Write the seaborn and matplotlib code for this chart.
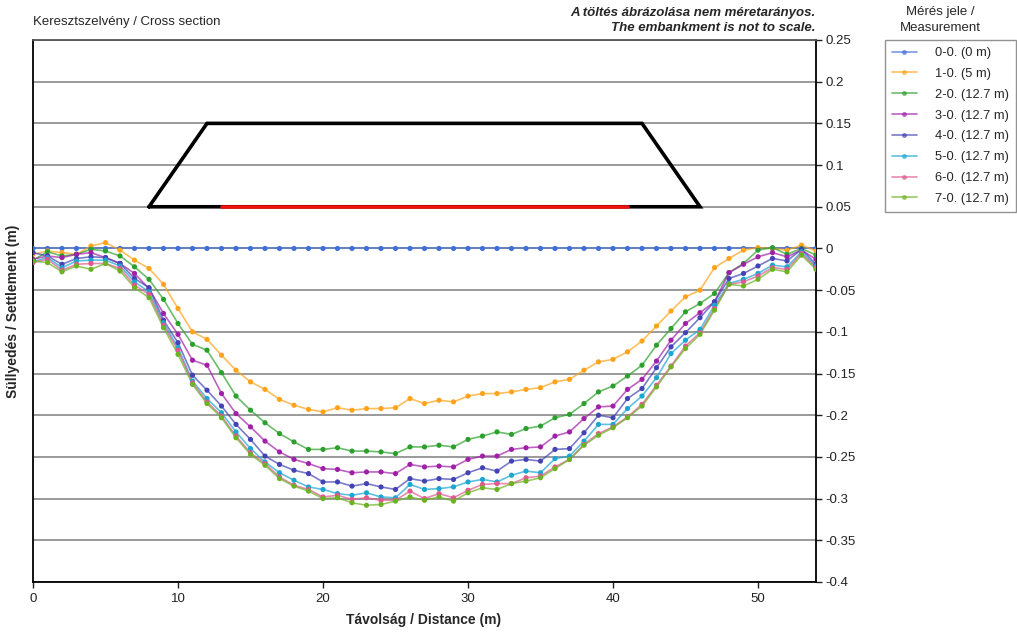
import numpy as np
import pandas as pd
import matplotlib
matplotlib.use("Agg")
import matplotlib.pyplot as plt
from matplotlib.lines import Line2D
import seaborn as sns

# ---------------- data ----------------
distance = list(range(0, 55))

s00 = [0.0] * 55
s10 = [-0.007, -0.003, -0.005, -0.007, 0.003, 0.007, -0.002, -0.014, -0.024, -0.043,
       -0.072, -0.100, -0.109, -0.128, -0.146, -0.160, -0.169, -0.181, -0.188, -0.193,
       -0.196, -0.191, -0.194, -0.192, -0.192, -0.191, -0.180, -0.186, -0.182, -0.184,
       -0.177, -0.174, -0.174, -0.172, -0.169, -0.167, -0.160, -0.157, -0.146, -0.136,
       -0.133, -0.124, -0.111, -0.093, -0.075, -0.058, -0.050, -0.023, -0.012, -0.002,
       0.001, 0.000, -0.002, 0.004, -0.003]
s20 = [-0.014, -0.004, -0.009, -0.007, -0.001, -0.003, -0.009, -0.022, -0.037, -0.061,
       -0.090, -0.115, -0.122, -0.149, -0.177, -0.194, -0.209, -0.222, -0.232, -0.241,
       -0.241, -0.239, -0.243, -0.243, -0.244, -0.246, -0.238, -0.238, -0.236, -0.238,
       -0.229, -0.225, -0.220, -0.223, -0.216, -0.213, -0.203, -0.199, -0.186, -0.172,
       -0.165, -0.153, -0.140, -0.116, -0.096, -0.076, -0.066, -0.054, -0.029, -0.018,
       -0.002, 0.001, -0.007, 0.000, -0.008]
s30 = [-0.013, -0.009, -0.011, -0.007, -0.005, -0.011, -0.018, -0.030, -0.048, -0.078,
       -0.103, -0.134, -0.140, -0.174, -0.198, -0.214, -0.231, -0.244, -0.253, -0.258,
       -0.264, -0.265, -0.269, -0.268, -0.268, -0.270, -0.259, -0.262, -0.261, -0.262,
       -0.253, -0.249, -0.249, -0.241, -0.239, -0.238, -0.225, -0.220, -0.204, -0.190,
       -0.189, -0.169, -0.157, -0.135, -0.110, -0.090, -0.077, -0.064, -0.029, -0.019,
       -0.010, -0.005, -0.010, -0.002, -0.013]
s40 = [-0.005, -0.009, -0.019, -0.012, -0.010, -0.011, -0.018, -0.036, -0.047, -0.086,
       -0.113, -0.152, -0.170, -0.189, -0.211, -0.229, -0.249, -0.259, -0.266, -0.270,
       -0.280, -0.280, -0.285, -0.282, -0.286, -0.289, -0.276, -0.279, -0.276, -0.277,
       -0.269, -0.263, -0.267, -0.255, -0.253, -0.255, -0.241, -0.240, -0.221, -0.200,
       -0.203, -0.180, -0.168, -0.143, -0.118, -0.101, -0.083, -0.064, -0.036, -0.030,
       -0.021, -0.012, -0.015, -0.001, -0.019]
s50 = [-0.016, -0.011, -0.023, -0.015, -0.014, -0.014, -0.021, -0.040, -0.052, -0.089,
       -0.119, -0.159, -0.180, -0.197, -0.220, -0.240, -0.256, -0.269, -0.278, -0.286,
       -0.289, -0.294, -0.296, -0.293, -0.298, -0.299, -0.283, -0.289, -0.288, -0.286,
       -0.280, -0.277, -0.280, -0.272, -0.267, -0.269, -0.252, -0.249, -0.231, -0.211,
       -0.211, -0.192, -0.177, -0.155, -0.126, -0.110, -0.097, -0.068, -0.042, -0.037,
       -0.030, -0.020, -0.022, -0.004, -0.021]
s60 = [-0.017, -0.013, -0.026, -0.019, -0.018, -0.018, -0.024, -0.044, -0.055, -0.092,
       -0.122, -0.161, -0.184, -0.201, -0.225, -0.245, -0.258, -0.274, -0.284, -0.289,
       -0.298, -0.296, -0.301, -0.299, -0.302, -0.302, -0.291, -0.300, -0.294, -0.299,
       -0.290, -0.283, -0.282, -0.282, -0.275, -0.273, -0.262, -0.253, -0.235, -0.222,
       -0.214, -0.202, -0.187, -0.164, -0.141, -0.117, -0.101, -0.072, -0.043, -0.040,
       -0.033, -0.023, -0.025, -0.006, -0.023]
s70 = [-0.015, -0.017, -0.028, -0.021, -0.025, -0.018, -0.027, -0.047, -0.059, -0.095,
       -0.127, -0.163, -0.186, -0.203, -0.227, -0.247, -0.260, -0.276, -0.285, -0.291,
       -0.300, -0.299, -0.305, -0.308, -0.307, -0.303, -0.298, -0.302, -0.298, -0.303,
       -0.293, -0.287, -0.289, -0.282, -0.279, -0.275, -0.264, -0.253, -0.236, -0.224,
       -0.215, -0.203, -0.189, -0.166, -0.142, -0.120, -0.103, -0.074, -0.043, -0.045,
       -0.037, -0.025, -0.028, -0.008, -0.025]

series_labels = ["0-0. (0 m)", "1-0. (5 m)", "2-0. (12.7 m)", "3-0. (12.7 m)",
                 "4-0. (12.7 m)", "5-0. (12.7 m)", "6-0. (12.7 m)", "7-0. (12.7 m)"]
series_values = [s00, s10, s20, s30, s40, s50, s60, s70]

# embankment outline (schematic) and loaded base
embank_x = [8, 12, 42, 46, 8]
embank_y = [0.05, 0.15, 0.15, 0.05, 0.05]
base_x = [13, 41]
base_y = [0.05, 0.05]

yticks = [0.25, 0.2, 0.15, 0.1, 0.05, 0, -0.05, -0.1, -0.15, -0.2, -0.25, -0.3, -0.35, -0.4]
ytick_labels = ["0.25", "0.2", "0.15", "0.1", "0.05", "0", "-0.05", "-0.1", "-0.15",
                "-0.2", "-0.25", "-0.3", "-0.35", "-0.4"]
xticks = [0, 10, 20, 30, 40, 50]

colors = ["#3f6fd8", "#ffa31a", "#2ca02c", "#a020a8", "#4343b5", "#1ca6d2", "#e0588f", "#6cb323"]

# ---------------- figure ----------------
sns.set_theme(style="white")
plt.rcParams["font.family"] = ["Liberation Sans", "DejaVu Sans"]

fig = plt.figure(figsize=(10.17, 6.32), dpi=100)
ax = fig.add_axes([33 / 1017, 1 - 582 / 632, (816 - 33) / 1017, (582 - 40) / 632])

rows = []
for lab, vals in zip(series_labels, series_values):
    for d, v in zip(distance, vals):
        rows.append((lab, d, v))
df = pd.DataFrame(rows, columns=["series", "dist", "settle"])
pal = dict(zip(series_labels, colors))

# gridlines first
for yv in yticks:
    ax.axhline(yv, color="#9a9a9a", lw=1.4, zorder=0)

sns.lineplot(data=df, x="dist", y="settle", hue="series", palette=pal, ax=ax,
             linewidth=1.2, alpha=0.7, legend=False, sort=False, zorder=3)
sns.scatterplot(data=df, x="dist", y="settle", hue="series", palette=pal, ax=ax,
                s=14, linewidth=0, legend=False, zorder=4)

ax.plot(embank_x, embank_y, color="black", lw=2.6, solid_joinstyle="miter", zorder=5)
ax.plot(base_x, base_y, color="#ee1111", lw=2.6, zorder=6)

ax.set_xlim(0, 54)
ax.set_ylim(-0.4, 0.25)
ax.set_xticks(xticks)
ax.set_xticklabels([str(t) for t in xticks])
ax.set_yticks(yticks)
ax.set_yticklabels(ytick_labels)
ax.yaxis.tick_right()
ax.tick_params(axis="y", which="both", direction="out", length=4, width=1, right=True,
               left=False, labelsize=9.5, pad=3, colors="#222222")
ax.tick_params(axis="x", direction="out", length=4, width=1, bottom=True,
               labelsize=9.5, pad=4, colors="#222222")
ax.set_xlabel("")
ax.set_ylabel("")
for side in ["left", "right", "top", "bottom"]:
    ax.spines[side].set_visible(True)
    ax.spines[side].set_color("black")
    ax.spines[side].set_linewidth(1.3)
ax.spines["top"].set_color("#555555")
ax.grid(False)

fig.text(424 / 1017, 1 - 620 / 632, "Távolság / Distance (m)", ha="center", va="center",
         fontsize=10, fontweight="bold")
fig.text(13 / 1017, 1 - 311 / 632, "Süllyedés / Settlement (m)", ha="center", va="center",
         rotation=90, fontsize=10, fontweight="bold")
fig.text(33 / 1017, 1 - 22 / 632, "Keresztszelvény / Cross section", ha="left", va="center",
         fontsize=9.5)
fig.text(815 / 1017, 1 - 7 / 632,
         "A töltés ábrázolása nem méretarányos.\nThe embankment is not to scale.",
         ha="right", va="top", fontsize=9.5, fontweight="bold", style="italic",
         linespacing=1.3)
fig.text(940 / 1017, 1 - 6 / 632, "Mérés jele /\nMeasurement", ha="center", va="top",
         fontsize=9.5, linespacing=1.45)

handles = [Line2D([0], [0], color=c, lw=1.2, alpha=0.7, marker="o", markersize=3.5,
                  markerfacecolor=c, markeredgewidth=0) for c in colors]
leg = fig.legend(handles, series_labels, loc="upper left",
                 bbox_to_anchor=(885 / 1017, 1 - 40 / 632), bbox_transform=fig.transFigure,
                 fontsize=9.3, frameon=True, fancybox=False, handlelength=1.9,
                 handletextpad=1.4, labelspacing=0.68, borderpad=0.55, borderaxespad=0)
leg.get_frame().set_edgecolor("#777777")
leg.get_frame().set_linewidth(1.0)

fig.savefig("out.png", dpi=100)
